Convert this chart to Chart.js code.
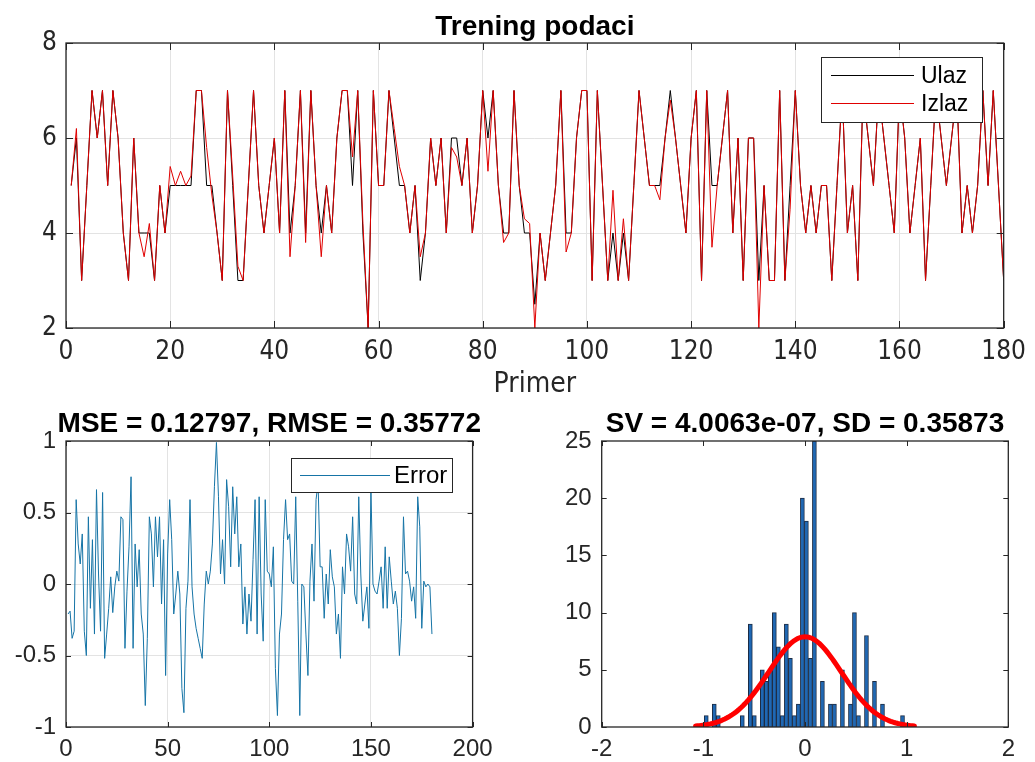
<!DOCTYPE html>
<html>
<head>
<meta charset="utf-8">
<title>Trening podaci</title>
<script src="https://cdn.jsdelivr.net/npm/chart.js@4.4.1/dist/chart.umd.min.js"></script>
<style>
  html, body { margin: 0; padding: 0; background: #fff; }
  body { width: 1035px; height: 762px; position: relative; overflow: hidden; }
  canvas { position: absolute; }
  #cTrening { left: 0; top: 0; }
  #cError { left: 0; top: 400px; }
  #cHist { left: 517px; top: 400px; }
</style>
</head>
<body>
<canvas id="cTrening" width="1035" height="400"></canvas>
<canvas id="cError" width="517" height="362"></canvas>
<canvas id="cHist" width="518" height="362"></canvas>
<script>
// --- podaci ---
const ulaz = [
  5,6,3,5,7,6,7,5,7,6,
  4,3,6,4,4,4,3,5,4,5,
  5,5,5,5,7,7,5,5,4,3,
  7,5,3,3,5,7,5,4,5,6,
  4,7,4,5,7,4,7,5,4,5,
  4,6,7,7,5,7,4,2,7,5,
  5,7,6,5,5,4,5,3,4,6,
  5,6,4,6,6,5,6,4,5,7,
  6,7,5,4,4,7,5,4,4,2.5,
  4,3,4,5,7,4,4,6,7,7,
  3,7,5,3,4,3,4,3,5,7,
  6,5,5,5,6,7,6,5,4,6,
  7,3,7,5,5,6,7,4,6,3,
  6,6,3,5,3,3,7,3,5,7,
  5,4,5,4,5,5,3,5,7,4,
  5,3,7,6,5,7,6,5,4,7,
  6,4,5,6,3,5,7,6,5,6,
  7,4,5,4,5,7,5,7,5,3
];
const izlaz = [
  5,6.2,3,5,7,6,7,5,7,6,
  4,3,6,4,3.5,4.2,3,5,4,5.4,
  5,5.3,5,5.2,7,7,5.8,4.8,4,3,
  7,5.2,3.3,3,5,7,5,4,5,6,
  4,7,3.5,5,7,3.8,7,5,3.5,5,
  4,6,7,7,5.6,7,4.2,2,7,5,
  5,7,6.2,5.4,5,4,5,3.5,4,6,
  5,6,4,5.8,5.6,5,6,4,5,7,
  5.3,7,5,3.8,4,7,5,4.3,4.2,2,
  4,3,4,5,7,3.6,4,6,7,7,
  3,7,5,3,4.9,3,4.3,3,5,7,
  6,5,5,4.7,6,6.8,6,5,4,6,
  7,3,7,3.7,5,6,7,4,6,3,
  6,6,2,5,3,3,7,3,4.5,7,
  5,4,5,4,5,5,3,5,7,4,
  5,3,7,6,5,7,6,5,4,7,
  6,4,5,6,3,5,7,6,5,6,
  7,4,5,4,5,7,5,7,5,3
];
const greska = [
  -0.21,-0.19,-0.38,-0.33,0.59,0.28,0.14,0.35,-0.33,-0.50,
  0.47,-0.17,0.31,-0.35,0.66,0.07,-0.33,0.64,-0.52,-0.35,
  -0.17,0.05,-0.20,-0.02,0.09,0.02,0.47,0.45,-0.45,-0.05,
  0.26,0.75,-0.45,0.28,-0.02,0.24,-0.21,-0.35,-0.85,-0.38,
  0.47,0.35,-0.02,0.47,0.19,0.47,-0.14,0.31,-0.64,0.21,
  0.59,0.31,-0.21,-0.07,0.09,-0.07,-0.73,-0.90,-0.17,0.02,
  0.59,-0.02,-0.21,-0.31,-0.38,-0.45,-0.52,-0.14,0.09,0.00,
  0.09,0.28,0.68,0.99,0.61,0.07,0.31,0.00,0.73,0.54,
  0.12,0.68,0.35,0.61,0.12,0.28,-0.28,-0.02,-0.35,-0.07,
  -0.26,0.17,0.59,-0.35,0.61,-0.07,-0.40,0.59,0.09,0.07,
  -0.02,0.26,-0.59,-0.92,-0.35,-0.21,0.31,0.59,0.31,0.35,
  0.02,0.00,0.61,-0.12,-0.92,0.00,-0.02,-0.35,-0.64,0.02,
  0.28,-0.12,0.59,0.71,0.12,0.12,-0.24,0.07,-0.14,0.24,
  0.05,-0.02,-0.35,-0.21,-0.52,0.12,-0.07,0.35,0.26,0.09,
  0.47,-0.07,-0.14,0.61,0.07,-0.26,-0.14,-0.02,-0.31,0.66,
  0.00,-0.05,-0.07,0.02,0.12,-0.17,0.26,-0.17,0.19,0.02,
  -0.14,-0.05,-0.17,-0.50,-0.24,0.47,0.07,0.09,0.02,-0.12,
  -0.02,-0.24,0.61,0.40,-0.31,0.02,-0.02,0.00,-0.02,-0.35
];
// histogram greske: 50 binova
const histCounts = [
  1,0,2,1,0,0,0,0,0,1,
  0,9,1,0,5,4,5,10,7,1,
  9,6,1,2,20,18,6,25,0,4,
  0,2,2,0,5,0,2,10,1,0,
  8,0,4,0,2,0,0,0,0,1
];
const histStart = -0.991;
const histStep = 0.0394;
const sv = 4.0063e-07;
const sd = 0.35873;

const xTicksTop = { min: 0, max: 180, step: 20 };
const yTicksTop = { min: 2, max: 8, step: 2 };

// --- fontovi i boje ---
const narrow = '"Liberation Sans Narrow", "DejaVu Sans Condensed", "Liberation Sans", sans-serif';
const sans = '"Liberation Sans", Arial, sans-serif';
const txtColor = '#262626';
const gridColor = '#e3e3e3';

// oznake bez suvisnih decimala (1, 0.5, 0, -0.5, -1)
const plainTick = v => String(Number(v.toFixed(4)));

// okvir, unutrasnje crtice, legenda i naslov u stilu MATLAB-a
const matlabAxes = {
  id: 'matlabAxes',
  afterDatasetsDraw(chart, args, o) {
    const { ctx, chartArea: a, scales } = chart;
    ctx.save();
    ctx.strokeStyle = txtColor;
    ctx.lineWidth = 1;
    ctx.beginPath();
    scales.x.ticks.forEach(t => {
      const px = Math.round(scales.x.getPixelForValue(t.value)) + 0.5;
      ctx.moveTo(px, a.bottom); ctx.lineTo(px, a.bottom - o.tickLen);
      ctx.moveTo(px, a.top); ctx.lineTo(px, a.top + o.tickLen);
    });
    scales.y.ticks.forEach(t => {
      const py = Math.round(scales.y.getPixelForValue(t.value)) + 0.5;
      ctx.moveTo(a.left, py); ctx.lineTo(a.left + o.tickLen, py);
      ctx.moveTo(a.right, py); ctx.lineTo(a.right - o.tickLen, py);
    });
    ctx.stroke();

    if (o.legend) {
      const lg = o.legend;
      const bx = Math.round(a.right - lg.right - lg.w), by = Math.round(a.top + lg.top);
      ctx.fillStyle = '#fff';
      ctx.fillRect(bx, by, lg.w, lg.h);
      ctx.strokeStyle = txtColor;
      ctx.lineWidth = 1;
      ctx.strokeRect(bx + 0.5, by + 0.5, lg.w, lg.h);
      ctx.font = lg.font;
      ctx.textAlign = 'left';
      ctx.textBaseline = 'middle';
      chart.data.datasets.forEach((ds, i) => {
        const y = by + lg.row0 + i * lg.rowGap + 0.5;
        ctx.strokeStyle = ds.borderColor;
        ctx.lineWidth = ds.borderWidth;
        ctx.beginPath();
        ctx.moveTo(bx + lg.lineX, y);
        ctx.lineTo(bx + lg.lineX + lg.lineLen, y);
        ctx.stroke();
        ctx.fillStyle = '#000';
        ctx.fillText(ds.label, bx + lg.lineX + lg.lineLen + lg.gap, y + 1);
      });
    }

    ctx.strokeStyle = txtColor;
    ctx.lineWidth = 1.3;
    ctx.strokeRect(a.left, a.top, a.right - a.left, a.bottom - a.top);

    ctx.fillStyle = '#000';
    ctx.font = o.titleFont;
    ctx.textAlign = 'center';
    ctx.textBaseline = 'alphabetic';
    ctx.fillText(o.title, (a.left + a.right) / 2, o.titleY);
    ctx.restore();
  }
};

function axisFont(family, size) {
  return { family: family, size: size, lineHeight: 1.2 };
}

// ————— Trening podaci —————
new Chart(document.getElementById('cTrening'), {
  type: 'line',
  data: {
    datasets: [
      { label: 'Ulaz', data: ulaz.map((v, i) => ({ x: i + 1, y: v })),
        borderColor: '#000000', borderWidth: 1, pointRadius: 0, tension: 0, order: 1 },
      { label: 'Izlaz', data: izlaz.map((v, i) => ({ x: i + 1, y: v })),
        borderColor: '#e00000', borderWidth: 1, pointRadius: 0, tension: 0, order: 0 }
    ]
  },
  options: {
    responsive: false,
    animation: false,
    layout: { padding: { top: 43, right: 27, left: 0, bottom: 0 } },
    scales: {
      x: {
        type: 'linear', min: xTicksTop.min, max: xTicksTop.max,
        afterFit: s => { s.height = 72; },
        ticks: { stepSize: xTicksTop.step, color: txtColor, font: axisFont(narrow, 26), padding: 9, maxRotation: 0, autoSkip: false },
        grid: { color: gridColor, drawTicks: false },
        border: { display: false },
        title: { display: true, text: 'Primer', color: txtColor, font: { family: narrow, size: 28, lineHeight: 1 }, padding: { top: 0, bottom: 1 } }
      },
      y: {
        min: yTicksTop.min, max: yTicksTop.max,
        afterFit: s => { s.width = 66; },
        ticks: { stepSize: yTicksTop.step, color: txtColor, font: axisFont(narrow, 26), padding: 9 },
        grid: { color: gridColor, drawTicks: false },
        border: { display: false }
      }
    },
    plugins: {
      legend: { display: false },
      tooltip: { enabled: false },
      matlabAxes: {
        tickLen: 7,
        title: 'Trening podaci',
        titleFont: `bold 28px ${sans}`,
        titleY: 35,
        legend: { right: 22, top: 14, w: 161, h: 65, row0: 18, rowGap: 28,
                  lineX: 10, lineLen: 83, gap: 7, font: `23px ${sans}` }
      }
    }
  },
  plugins: [matlabAxes]
});

// ————— Greska —————
new Chart(document.getElementById('cError'), {
  type: 'line',
  data: {
    datasets: [
      { label: 'Error', data: greska.map((v, i) => ({ x: i + 1, y: v })),
        borderColor: '#1674a6', borderWidth: 1, pointRadius: 0, tension: 0 }
    ]
  },
  options: {
    responsive: false,
    animation: false,
    layout: { padding: { top: 41, right: 44.4, left: 0, bottom: 0 } },
    scales: {
      x: {
        type: 'linear', min: 0, max: 200,
        afterFit: s => { s.height = 35; },
        ticks: { stepSize: 50, color: txtColor, font: axisFont(sans, 24), padding: 8, maxRotation: 0, autoSkip: false },
        grid: { color: gridColor, drawTicks: false },
        border: { display: false }
      },
      y: {
        min: -1, max: 1,
        afterFit: s => { s.width = 66; },
        ticks: { stepSize: 0.5, color: txtColor, font: axisFont(sans, 24), padding: 10, callback: plainTick },
        grid: { color: gridColor, drawTicks: false },
        border: { display: false }
      }
    },
    plugins: {
      legend: { display: false },
      tooltip: { enabled: false },
      matlabAxes: {
        tickLen: 5,
        title: 'MSE = 0.12797, RMSE = 0.35772',
        titleFont: `bold 28px ${sans}`,
        titleY: 32,
        legend: { right: 20.6, top: 17, w: 161, h: 34, row0: 17, rowGap: 0,
                  lineX: 9, lineLen: 90, gap: 4, font: `24px ${sans}` }
      }
    }
  },
  plugins: [matlabAxes]
});

// ————— Histogram + normalna raspodela —————
const histData = histCounts.map((c, k) => ({ x: histStart + histStep * (k + 0.5), y: c }));
const nUzoraka = greska.length;
const fitCurve = [];
for (let j = 0; j <= 120; j++) {
  const x = sv - 3 * sd + (6 * sd) * j / 120;
  const z = (x - sv) / sd;
  fitCurve.push({ x: x, y: nUzoraka * histStep * Math.exp(-0.5 * z * z) / (sd * Math.sqrt(2 * Math.PI)) });
}

new Chart(document.getElementById('cHist'), {
  type: 'bar',
  data: {
    datasets: [
      { type: 'line', label: 'fit', data: fitCurve, borderColor: '#ff0000', borderWidth: 5,
        pointRadius: 0, tension: 0, borderCapStyle: 'round', order: 0 },
      { type: 'bar', label: 'greska', data: histData, backgroundColor: '#1f68b4',
        borderColor: '#1c2c44', borderWidth: 1, barPercentage: 1, categoryPercentage: 1, order: 1 }
    ]
  },
  options: {
    responsive: false,
    animation: false,
    layout: { padding: { top: 41, right: 26.7, left: 0, bottom: 0 } },
    scales: {
      x: {
        type: 'linear', min: -2, max: 2, offset: false,
        afterFit: s => { s.height = 35; },
        ticks: { stepSize: 1, color: txtColor, font: axisFont(sans, 24), padding: 8, maxRotation: 0, autoSkip: false },
        grid: { display: false, drawTicks: false, offset: false },
        border: { display: false }
      },
      y: {
        min: 0, max: 25,
        afterFit: s => { s.width = 84.7; },
        ticks: { stepSize: 5, color: txtColor, font: axisFont(sans, 24), padding: 10 },
        grid: { display: false, drawTicks: false },
        border: { display: false }
      }
    },
    plugins: {
      legend: { display: false },
      tooltip: { enabled: false },
      matlabAxes: {
        tickLen: 5,
        title: 'SV = 4.0063e-07, SD = 0.35873',
        titleFont: `bold 28px ${sans}`,
        titleY: 32
      }
    }
  },
  plugins: [matlabAxes]
});
</script>
</body>
</html>
